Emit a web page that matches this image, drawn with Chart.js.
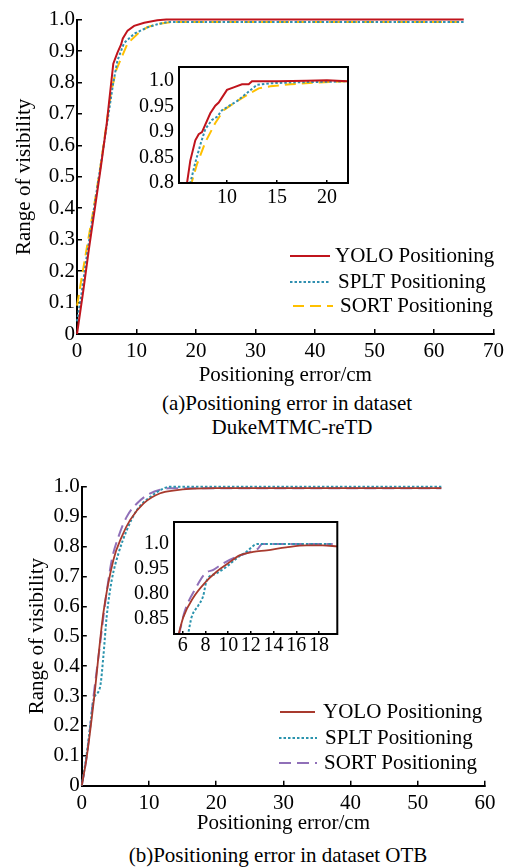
<!DOCTYPE html>
<html>
<head>
<meta charset="utf-8">
<script src="https://cdn.jsdelivr.net/npm/chart.js@4/dist/chart.umd.min.js"></script>
<style>
  body { margin: 0; background: #fff; width: 514px; height: 868px; position: relative; overflow: hidden;
         font-family: "Liberation Serif", "Times New Roman", serif; color: #000; }
  canvas { position: absolute; }
  .txt { position: absolute; font-size: 21px; line-height: 24px; white-space: nowrap; }
  .cap { transform: translateX(-50%); }
  svg { position: absolute; overflow: visible; }
</style>
</head>
<body>
<canvas id="mainA" width="514" height="388" style="left:0;top:0"></canvas>
<canvas id="insetA" width="240" height="165" style="left:120px;top:50px"></canvas>
<canvas id="mainB" width="514" height="376" style="left:0;top:460px"></canvas>
<canvas id="insetB" width="240" height="160" style="left:110px;top:505px"></canvas>

<div class="txt cap" style="left:287px;top:391px">(a)Positioning error in dataset</div>
<div class="txt cap" style="left:292px;top:415px">DukeMTMC-reTD</div>
<div class="txt cap" style="left:278px;top:843px">(b)Positioning error in dataset OTB</div>
<div id="legends"></div>

<script>
window.onload = () => {
  // (a) DukeMTMC-reTD, main plot
  const dukeYoloX = [0, 1, 2, 3, 4, 5, 6.1, 6.8, 7.4, 7.7, 8.5, 9.6, 11.3, 13.5, 15, 65];
  const dukeYoloY = [0, 0.13, 0.27, 0.40, 0.53, 0.67, 0.86, 0.895, 0.92, 0.94, 0.965, 0.98, 0.99, 0.998, 1.0, 1.0];
  const dukeSpltX = [0, 0.7, 1.5, 2.7, 4, 5.3, 6.1, 6.8, 7.9, 9.6, 11.8, 13.5, 15.2, 65];
  const dukeSpltY = [0.04, 0.12, 0.23, 0.38, 0.54, 0.70, 0.80, 0.87, 0.925, 0.955, 0.975, 0.985, 0.992, 0.992];
  const dukeSortX = [0, 0.8, 1.7, 2.8, 4, 5.2, 5.7, 6.6, 7.4, 8.5, 10.2, 11.8, 13.5, 15.7, 65];
  const dukeSortY = [0.09, 0.18, 0.28, 0.40, 0.54, 0.70, 0.767, 0.84, 0.876, 0.924, 0.955, 0.976, 0.986, 0.992, 0.992];

  // (a) inset
  const dukeInYoloX = [5.9, 6.0, 6.33, 6.83, 7.17, 7.5, 8.33, 8.83, 9.17, 10, 10.67, 11.5, 12.17, 12.5, 15, 18, 20, 21, 22];
  const dukeInYoloY = [0.78, 0.8, 0.844, 0.884, 0.896, 0.9, 0.937, 0.952, 0.958, 0.983, 0.988, 0.994, 0.994, 1.0, 1.0, 1.001, 1.002, 1.001, 1.0];
  const dukeInSpltX = [6.2, 6.33, 6.83, 7.33, 7.83, 8.5, 9.0, 9.5, 10, 11, 12, 13, 14.3, 17, 20.3, 22];
  const dukeInSpltY = [0.79, 0.8, 0.84, 0.875, 0.906, 0.924, 0.93, 0.943, 0.949, 0.961, 0.977, 0.993, 0.996, 0.998, 0.999, 1.0];
  const dukeInSortX = [6.3, 7.0, 7.83, 8.83, 9.67, 10.33, 11.33, 12.33, 13.17, 14.33, 16.33, 18.67, 22];
  const dukeInSortY = [0.79, 0.837, 0.88, 0.918, 0.943, 0.952, 0.965, 0.977, 0.986, 0.99, 0.994, 0.997, 1.0];

  // (b) OTB, main plot
  const otbYoloX = [0, 0.74, 1.74, 3.2, 4.7, 5.95, 7.2, 9.2, 11.66, 13.6, 20, 53.5];
  const otbYoloY = [0, 0.097, 0.275, 0.576, 0.755, 0.833, 0.889, 0.944, 0.978, 0.987, 0.995, 0.995];
  const otbSpltX = [0, 0.74, 1.24, 1.74, 2.73, 3.2, 3.7, 4.46, 5.46, 6.7, 8.2, 10.2, 12.15, 13.1, 53.5];
  const otbSpltY = [0, 0.108, 0.197, 0.287, 0.331, 0.43, 0.565, 0.688, 0.777, 0.855, 0.922, 0.966, 0.994, 1.0, 1.0];
  const otbSortX = [0, 0.74, 1.74, 2.73, 3.47, 4.46, 5.46, 6.7, 8.2, 10.2, 11.66, 13, 53.5];
  const otbSortY = [0, 0.1, 0.298, 0.476, 0.61, 0.755, 0.833, 0.90, 0.944, 0.978, 0.99, 0.995, 0.995];

  // (b) inset
  const otbInYoloX = [5.55, 6.06, 6.93, 7.96, 8.98, 10.0, 11.0, 12.2, 13.4, 15.1, 16.9, 18.3, 19.6];
  const otbInYoloY = [0.81, 0.853, 0.892, 0.922, 0.944, 0.961, 0.977, 0.984, 0.987, 0.993, 0.997, 0.997, 0.995];
  const otbInSpltX = [6.45, 6.79, 7.37, 7.8, 8.1, 9.0, 9.86, 10.74, 11.6, 12.6, 19.2];
  const otbInSpltY = [0.815, 0.853, 0.876, 0.895, 0.925, 0.941, 0.954, 0.971, 0.984, 1.0, 1.0];
  const otbInSortX = [5.65, 6.2, 7.1, 8.0, 8.7, 9.56, 10.74, 11.9, 12.6, 13.0, 19.2];
  const otbInSortY = [0.815, 0.866, 0.909, 0.941, 0.948, 0.961, 0.974, 0.984, 0.99, 1.0, 1.0];

  // tick labels
  const mainYTicks = [0, 0.1, 0.2, 0.3, 0.4, 0.5, 0.6, 0.7, 0.8, 0.9, 1.0];
  const mainYLabels = ['0', '0.1', '0.2', '0.3', '0.4', '0.5', '0.6', '0.7', '0.8', '0.9', '1.0'];
  const dukeInYTicks = [0.8, 0.85, 0.9, 0.95, 1.0];
  const dukeInYLabels = ['0.8', '0.85', '0.9', '0.95', '1.0'];
  const dukeInXTicks = [10, 15, 20];
  const otbInYTicks = [0.85, 0.9, 0.95, 1.0];
  const otbInYLabels = ['0.85', '0.80', '0.95', '1.0'];
  const otbInXTicks = [6, 8, 10, 12, 14, 16, 18];

  const seriesNames = ['YOLO Positioning', 'SPLT Positioning', 'SORT Positioning'];

  Chart.defaults.font.family = '"Liberation Serif", "Times New Roman", serif';
  Chart.defaults.font.size = 21;
  Chart.defaults.color = '#000';

  const pts = (xs, ys) => xs.map((x, i) => ({ x, y: ys[i] }));

  const stylesA = [
    { color: '#c0141c', width: 2, dash: [] },
    { color: '#2f8fb0', width: 2, dash: [2.5, 2] },
    { color: '#ffc000', width: 2, dash: [11, 6] }
  ];
  const stylesB = [
    { color: '#a83a2e', width: 1.8, dash: [] },
    { color: '#2a93ad', width: 2, dash: [2.5, 2] },
    { color: '#9070b8', width: 2, dash: [12, 6] }
  ];

  const makeSets = (data, styles, monotone) => data.map((d, i) => ({
    label: seriesNames[i],
    data: d,
    borderColor: styles[i].color,
    borderWidth: styles[i].width,
    borderDash: styles[i].dash,
    pointRadius: 0,
    fill: false,
    tension: 0,
    cubicInterpolationMode: monotone ? 'monotone' : 'default'
  }));

  const fixedTicks = (values) => (scale) => { scale.ticks = values.map(v => ({ value: v })); };
  const labelFrom = (values, labels) => (v) => {
    const i = values.findIndex(t => Math.abs(t - v) < 1e-9);
    return i >= 0 ? labels[i] : '';
  };

  const boxPlugin = {
    id: 'box',
    afterDraw(chart) {
      const { ctx, chartArea: a } = chart;
      ctx.save();
      ctx.strokeStyle = '#000';
      ctx.lineWidth = 2;
      ctx.strokeRect(a.left, a.top, a.right - a.left, a.bottom - a.top);
      ctx.restore();
    }
  };

  const mainChart = (id, data, styles, monotone, o) => new Chart(document.getElementById(id), {
    type: 'line',
    data: { datasets: makeSets(data, styles, monotone).map(s => ({ ...s, clip: false })) },
    options: {
      responsive: false, animation: false, events: [],
      layout: { padding: { top: o.top, right: o.right, left: 0, bottom: 0 } },
      plugins: { legend: { display: false }, tooltip: { enabled: false } },
      scales: {
        x: {
          type: 'linear', min: 0, max: o.xMax,
          ticks: { stepSize: 10, padding: 10, maxRotation: 0, autoSkip: false },
          grid: { drawOnChartArea: false, tickLength: -5, color: '#000', lineWidth: 1.5 },
          border: { color: '#000', width: 2 },
          title: { display: true, text: 'Positioning error/cm', padding: { top: 0, bottom: 0 } },
          afterFit: s => { s.height = o.xH; }
        },
        y: {
          type: 'linear', min: 0, max: 1,
          afterBuildTicks: fixedTicks(mainYTicks),
          ticks: { padding: 7, callback: labelFrom(mainYTicks, mainYLabels) },
          grid: { drawOnChartArea: false, tickLength: -5, color: '#000', lineWidth: 1.5 },
          border: { color: '#000', width: 2 },
          title: { display: true, text: 'Range of visibility', padding: { top: o.titlePad, bottom: 0 } },
          afterFit: s => { s.width = o.yW; }
        }
      }
    }
  });

  const insetChart = (id, data, styles, monotone, o) => new Chart(document.getElementById(id), {
    type: 'line',
    data: { datasets: makeSets(data, styles, monotone) },
    options: {
      responsive: false, animation: false, events: [],
      layout: { padding: { top: o.top, right: o.right, left: 0, bottom: 0 } },
      plugins: { legend: { display: false }, tooltip: { enabled: false } },
      scales: {
        x: {
          type: 'linear', min: o.xMin, max: o.xMax,
          afterBuildTicks: fixedTicks(o.xTicks),
          ticks: { padding: o.xPad, maxRotation: 0, minRotation: 0, autoSkip: false, font: { size: 20 } },
          grid: { drawOnChartArea: false, tickLength: -3, color: '#000', lineWidth: 1.5 },
          border: { display: false },
          afterFit: s => { s.height = o.xH; }
        },
        y: {
          type: 'linear', min: o.yMin, max: o.yMax,
          afterBuildTicks: fixedTicks(o.yTicks),
          ticks: { padding: 5, callback: labelFrom(o.yTicks, o.yLabels), font: { size: 20 } },
          grid: { display: false, drawTicks: false },
          border: { display: false },
          afterFit: s => { s.width = o.yW; }
        }
      }
    },
    plugins: [boxPlugin]
  });

  mainChart('mainA',
    [pts(dukeYoloX, dukeYoloY), pts(dukeSpltX, dukeSpltY), pts(dukeSortX, dukeSortY)],
    stylesA, false,
    { top: 16, right: 17, xMax: 70, xH: 54, yW: 77, titlePad: 12 });

  insetChart('insetA',
    [pts(dukeInYoloX, dukeInYoloY), pts(dukeInSpltX, dukeInSpltY), pts(dukeInSortX, dukeInSortY)],
    stylesA, false,
    { top: 11, right: 12, xH: 32, yW: 59, xMin: 5.2, xMax: 22.1, xTicks: dukeInXTicks, xPad: 6,
      yMin: 0.8, yMax: 1.028, yTicks: dukeInYTicks, yLabels: dukeInYLabels });

  mainChart('mainB',
    [pts(otbYoloX, otbYoloY), pts(otbSpltX, otbSpltY), pts(otbSortX, otbSortY)],
    stylesB, true,
    { top: 26.7, right: 29, xMax: 60, xH: 50.3, yW: 81.8, titlePad: 25 });

  insetChart('insetB',
    [pts(otbInYoloX, otbInYoloY), pts(otbInSpltX, otbInSpltY), pts(otbInSortX, otbInSortY)],
    stylesB, true,
    { top: 14.3, right: 12.7, xH: 31, yW: 64, xMin: 5.24, xMax: 19.6, xTicks: otbInXTicks, xPad: 3,
      yMin: 0.819, yMax: 1.044, yTicks: otbInYTicks, yLabels: otbInYLabels });

  // legends (html, built from the series names and styles)
  const legendPos = [
    { styles: stylesA, rows: [[290, 330, 256, 335], [290, 330, 282, 338], [293, 333, 306, 340]] },
    { styles: stylesB, rows: [[280, 315, 712, 323], [279, 317, 738, 325], [279, 317, 763, 324]] }
  ];
  const box = document.getElementById('legends');
  legendPos.forEach(lg => {
    lg.rows.forEach(([x1, x2, y, tx], i) => {
      const st = lg.styles[i];
      const svg = document.createElementNS('http://www.w3.org/2000/svg', 'svg');
      svg.setAttribute('width', x2 - x1);
      svg.setAttribute('height', 4);
      svg.style.left = x1 + 'px';
      svg.style.top = (y - 2) + 'px';
      const ln = document.createElementNS('http://www.w3.org/2000/svg', 'line');
      ln.setAttribute('x1', 0); ln.setAttribute('x2', x2 - x1);
      ln.setAttribute('y1', 2); ln.setAttribute('y2', 2);
      ln.setAttribute('stroke', st.color);
      ln.setAttribute('stroke-width', st.width);
      if (st.dash.length) ln.setAttribute('stroke-dasharray', st.dash.join(' '));
      svg.appendChild(ln);
      box.appendChild(svg);
      const t = document.createElement('div');
      t.className = 'txt';
      t.style.left = tx + 'px';
      t.style.top = (y - 13) + 'px';
      t.textContent = seriesNames[i];
      box.appendChild(t);
    });
  });
};
</script>
</body>
</html>
